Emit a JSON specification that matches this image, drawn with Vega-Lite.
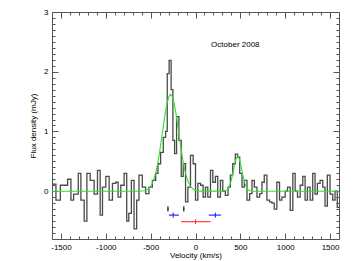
{
  "$schema": "https://vega.github.io/schema/vega-lite/v6.json",
  "width": 287,
  "height": 227,
  "autosize": "none",
  "padding": {"left": 52, "top": 12, "right": 15, "bottom": 22},
  "background": "white",
  "config": {
    "view": {"stroke": "#555", "strokeWidth": 1},
    "font": "Liberation Sans",
    "axis": {
      "domain": false,
      "grid": false,
      "tickColor": "#555",
      "labelColor": "#000",
      "labelFontSize": 8,
      "labelOverlap": false,
      "labelFlush": false,
      "titleFontSize": 8,
      "titleFontWeight": "normal",
      "titleColor": "#000"
    }
  },
  "datasets": {
    "spec": [
      {"v": -1600, "f": 0.12}, {"v": -1556, "f": -0.15}, {"v": -1507, "f": 0.1}, {"v": -1426, "f": 0.2},
      {"v": -1389, "f": -0.15}, {"v": -1359, "f": -0.05}, {"v": -1307, "f": 0.3}, {"v": -1278, "f": -0.15},
      {"v": -1241, "f": -0.5}, {"v": -1211, "f": 0.3}, {"v": -1174, "f": 0.18}, {"v": -1130, "f": -0.05},
      {"v": -1093, "f": 0.35}, {"v": -1063, "f": -0.4}, {"v": -1037, "f": 0.07}, {"v": -1000, "f": 0.25},
      {"v": -963, "f": -0.15}, {"v": -926, "f": 0.13}, {"v": -889, "f": 0.15}, {"v": -863, "f": -0.1},
      {"v": -833, "f": 0.1}, {"v": -796, "f": 0.3}, {"v": -767, "f": -0.5}, {"v": -744, "f": -0.37},
      {"v": -715, "f": 0.18}, {"v": -685, "f": -0.63}, {"v": -656, "f": -0.15}, {"v": -630, "f": 0.27},
      {"v": -593, "f": 0.07}, {"v": -556, "f": -0.04}, {"v": -519, "f": 0.07}, {"v": -481, "f": 0.18},
      {"v": -444, "f": 0.3}, {"v": -419, "f": 0.46}, {"v": -389, "f": 0.65}, {"v": -359, "f": 0.9},
      {"v": -333, "f": 1.0}, {"v": -315, "f": 1.97}, {"v": -294, "f": 2.19}, {"v": -272, "f": 1.7},
      {"v": -252, "f": 0.85}, {"v": -233, "f": 0.63}, {"v": -211, "f": 1.25}, {"v": -185, "f": 0.85},
      {"v": -159, "f": 0.25}, {"v": -137, "f": 0.46}, {"v": -111, "f": -0.18}, {"v": -85, "f": 0.07},
      {"v": -56, "f": 0.6}, {"v": -26, "f": 0.46}, {"v": 0, "f": -0.15}, {"v": 26, "f": 0.13},
      {"v": 56, "f": 0.1}, {"v": 85, "f": -0.1}, {"v": 111, "f": 0.07}, {"v": 137, "f": -0.1},
      {"v": 167, "f": 0.35}, {"v": 193, "f": 0.15}, {"v": 222, "f": 0.25}, {"v": 248, "f": -0.1},
      {"v": 278, "f": 0.18}, {"v": 304, "f": 0.0}, {"v": 333, "f": -0.07}, {"v": 363, "f": 0.07},
      {"v": 389, "f": 0.27}, {"v": 415, "f": 0.46}, {"v": 444, "f": 0.62}, {"v": 470, "f": 0.57},
      {"v": 493, "f": 0.3}, {"v": 519, "f": 0.07}, {"v": 544, "f": 0.18}, {"v": 574, "f": -0.15},
      {"v": 604, "f": -0.04}, {"v": 630, "f": 0.18}, {"v": 656, "f": 0.07}, {"v": 685, "f": -0.1},
      {"v": 715, "f": -0.04}, {"v": 741, "f": 0.15}, {"v": 767, "f": 0.27}, {"v": 796, "f": -0.15},
      {"v": 826, "f": -0.18}, {"v": 852, "f": -0.2}, {"v": 878, "f": -0.3}, {"v": 907, "f": 0.15},
      {"v": 937, "f": -0.15}, {"v": 963, "f": -0.1}, {"v": 1000, "f": 0.0}, {"v": 1026, "f": 0.07},
      {"v": 1056, "f": -0.32}, {"v": 1085, "f": 0.3}, {"v": 1111, "f": 0.0}, {"v": 1137, "f": -0.1},
      {"v": 1167, "f": 0.1}, {"v": 1196, "f": 0.25}, {"v": 1222, "f": -0.15}, {"v": 1248, "f": 0.07},
      {"v": 1278, "f": -0.15}, {"v": 1307, "f": 0.3}, {"v": 1333, "f": -0.05}, {"v": 1359, "f": 0.13},
      {"v": 1389, "f": 0.18}, {"v": 1419, "f": 0.07}, {"v": 1444, "f": -0.25}, {"v": 1470, "f": 0.27},
      {"v": 1500, "f": -0.05}, {"v": 1530, "f": -0.15}, {"v": 1556, "f": 0.0}, {"v": 1581, "f": -0.27},
      {"v": 1600, "f": -0.27}
    ],
    "fit": [
      {"v": -1600, "f": 0}, {"v": -618, "f": 0.001}, {"v": -578, "f": 0.007}, {"v": -558, "f": 0.014},
      {"v": -538, "f": 0.027}, {"v": -518, "f": 0.05}, {"v": -498, "f": 0.087}, {"v": -478, "f": 0.145},
      {"v": -458, "f": 0.229}, {"v": -438, "f": 0.345}, {"v": -418, "f": 0.496}, {"v": -398, "f": 0.679},
      {"v": -378, "f": 0.886}, {"v": -358, "f": 1.101}, {"v": -338, "f": 1.303}, {"v": -318, "f": 1.471},
      {"v": -298, "f": 1.581}, {"v": -278, "f": 1.62}, {"v": -258, "f": 1.581}, {"v": -238, "f": 1.471},
      {"v": -218, "f": 1.303}, {"v": -198, "f": 1.101}, {"v": -178, "f": 0.886}, {"v": -158, "f": 0.679},
      {"v": -138, "f": 0.496}, {"v": -118, "f": 0.345}, {"v": -98, "f": 0.229}, {"v": -78, "f": 0.145},
      {"v": -58, "f": 0.087}, {"v": -38, "f": 0.05}, {"v": -18, "f": 0.027}, {"v": 2, "f": 0.014},
      {"v": 22, "f": 0.007}, {"v": 62, "f": 0.001}, {"v": 300, "f": 0.001}, {"v": 330, "f": 0.007},
      {"v": 350, "f": 0.022}, {"v": 370, "f": 0.06}, {"v": 380, "f": 0.093}, {"v": 390, "f": 0.136},
      {"v": 400, "f": 0.191}, {"v": 410, "f": 0.257}, {"v": 420, "f": 0.329}, {"v": 430, "f": 0.404},
      {"v": 440, "f": 0.473}, {"v": 450, "f": 0.53}, {"v": 460, "f": 0.567}, {"v": 470, "f": 0.58},
      {"v": 480, "f": 0.567}, {"v": 490, "f": 0.53}, {"v": 500, "f": 0.473}, {"v": 510, "f": 0.404},
      {"v": 520, "f": 0.329}, {"v": 530, "f": 0.257}, {"v": 540, "f": 0.191}, {"v": 550, "f": 0.136},
      {"v": 560, "f": 0.093}, {"v": 570, "f": 0.06}, {"v": 590, "f": 0.022}, {"v": 610, "f": 0.007},
      {"v": 640, "f": 0.001}, {"v": 1600, "f": 0}
    ],
    "cross": [
      {"v": -248, "lo": -297, "hi": -185, "f": -0.4, "flo": -0.44, "fhi": -0.36, "kind": "a"},
      {"v": 222, "lo": 148, "hi": 285, "f": -0.4, "flo": -0.44, "fhi": -0.36, "kind": "a"},
      {"v": 0, "lo": -159, "hi": 167, "f": -0.51, "flo": -0.55, "fhi": -0.47, "kind": "b"}
    ],
    "marks": [
      {"v": -307, "lo": -314, "hi": -300, "f": -0.3, "flo": -0.34, "fhi": -0.25},
      {"v": -130, "lo": -137, "hi": -123, "f": -0.3, "flo": -0.34, "fhi": -0.25}
    ],
    "label": [{"v": 444, "f": 2.45, "t": "October 2008"}]
  },
  "resolve": {"scale": {"x": "independent", "y": "independent"}},
  "layer": [
    {
      "layer": [
        {
          "data": {"name": "spec"},
          "mark": {"type": "line", "interpolate": "step-after", "color": "#4a4a4a", "strokeWidth": 1.3},
          "encoding": {
            "x": {
              "field": "v", "type": "quantitative",
              "scale": {"domain": [-1600, 1600], "nice": false, "zero": false},
              "axis": {
                "orient": "bottom", "title": "Velocity (km/s)", "titlePadding": 0,
                "values": [-1500, -1000, -500, 0, 500, 1000, 1500],
                "labelExpr": "'' + datum.value",
                "tickSize": -6,
                "labelPadding": 10
              }
            },
            "y": {
              "field": "f", "type": "quantitative",
              "scale": {"domain": [-0.8, 3], "nice": false, "zero": false},
              "axis": {
                "orient": "left", "title": "Flux density (mJy)", "titlePadding": 6,
                "values": [0, 1, 2, 3],
                "labelExpr": "'' + datum.value",
                "tickSize": -6,
                "labelPadding": 10
              }
            }
          }
        },
        {
          "data": {"name": "cross"},
          "mark": {"type": "rule", "strokeWidth": 1.2},
          "encoding": {
            "x": {"field": "lo", "type": "quantitative"},
            "x2": {"field": "hi"},
            "y": {"field": "f", "type": "quantitative"},
            "color": {"field": "kind", "type": "nominal", "scale": {"domain": ["a", "b"], "range": ["#2a2aff", "#ff3b3b"]}, "legend": null}
          }
        },
        {
          "data": {"name": "cross"},
          "mark": {"type": "rule", "strokeWidth": 1.2},
          "encoding": {
            "x": {"field": "v", "type": "quantitative"},
            "y": {"field": "flo", "type": "quantitative"},
            "y2": {"field": "fhi"},
            "color": {"field": "kind", "type": "nominal", "legend": null}
          }
        },
        {
          "data": {"name": "marks"},
          "mark": {"type": "rule", "strokeWidth": 1, "color": "#000"},
          "encoding": {
            "x": {"field": "v", "type": "quantitative"},
            "y": {"field": "flo", "type": "quantitative"},
            "y2": {"field": "fhi"}
          }
        },
        {
          "data": {"name": "marks"},
          "mark": {"type": "rule", "strokeWidth": 1, "color": "#000"},
          "encoding": {
            "x": {"field": "lo", "type": "quantitative"},
            "x2": {"field": "hi"},
            "y": {"field": "f", "type": "quantitative"}
          }
        },
        {
          "data": {"name": "label"},
          "mark": {"type": "text", "fontSize": 8, "color": "#000", "font": "Liberation Sans"},
          "encoding": {
            "x": {"field": "v", "type": "quantitative"},
            "y": {"field": "f", "type": "quantitative"},
            "text": {"field": "t"}
          }
        }
      ]
    },
    {
      "data": {"name": "fit"},
      "mark": {"type": "line", "color": "#33dd33", "strokeWidth": 1.1},
      "encoding": {
        "x": {
          "field": "v", "type": "quantitative",
          "scale": {"domain": [-1600, 1600], "nice": false, "zero": false},
          "axis": {"orient": "top", "title": null, "labels": false, "values": [-1500, -1000, -500, 0, 500, 1000, 1500], "tickSize": -6}
        },
        "y": {
          "field": "f", "type": "quantitative",
          "scale": {"domain": [-0.8, 3], "nice": false, "zero": false},
          "axis": {"orient": "right", "title": null, "labels": false, "values": [0, 1, 2, 3], "tickSize": -6}
        }
      }
    },
    {
      "data": {"name": "label"},
      "mark": {"type": "point", "opacity": 0},
      "encoding": {
        "x": {
          "field": "v", "type": "quantitative",
          "scale": {"domain": [-1600, 1600], "nice": false, "zero": false},
          "axis": {"orient": "bottom", "title": null, "labels": false, "offset": 0,
            "values": [-1400,-1300,-1200,-1100,-900,-800,-700,-600,-400,-300,-200,-100,100,200,300,400,600,700,800,900,1100,1200,1300,1400], "tickSize": -3}
        },
        "y": {
          "field": "f", "type": "quantitative",
          "scale": {"domain": [-0.8, 3], "nice": false, "zero": false},
          "axis": {"orient": "left", "title": null, "labels": false, "offset": 0,
            "values": [-0.8,-0.7,-0.6,-0.5,-0.4,-0.3,-0.2,-0.1,0.1,0.2,0.3,0.4,0.5,0.6,0.7,0.8,0.9,1.1,1.2,1.3,1.4,1.5,1.6,1.7,1.8,1.9,2.1,2.2,2.3,2.4,2.5,2.6,2.7,2.8,2.9], "tickSize": -3}
        }
      }
    },
    {
      "data": {"name": "label"},
      "mark": {"type": "point", "opacity": 0},
      "encoding": {
        "x": {
          "field": "v", "type": "quantitative",
          "scale": {"domain": [-1600, 1600], "nice": false, "zero": false},
          "axis": {"orient": "top", "title": null, "labels": false, "offset": 0,
            "values": [-1400,-1300,-1200,-1100,-900,-800,-700,-600,-400,-300,-200,-100,100,200,300,400,600,700,800,900,1100,1200,1300,1400], "tickSize": -3}
        },
        "y": {
          "field": "f", "type": "quantitative",
          "scale": {"domain": [-0.8, 3], "nice": false, "zero": false},
          "axis": {"orient": "right", "title": null, "labels": false, "offset": 0,
            "values": [-0.8,-0.7,-0.6,-0.5,-0.4,-0.3,-0.2,-0.1,0.1,0.2,0.3,0.4,0.5,0.6,0.7,0.8,0.9,1.1,1.2,1.3,1.4,1.5,1.6,1.7,1.8,1.9,2.1,2.2,2.3,2.4,2.5,2.6,2.7,2.8,2.9], "tickSize": -3}
        }
      }
    }
  ]
}
